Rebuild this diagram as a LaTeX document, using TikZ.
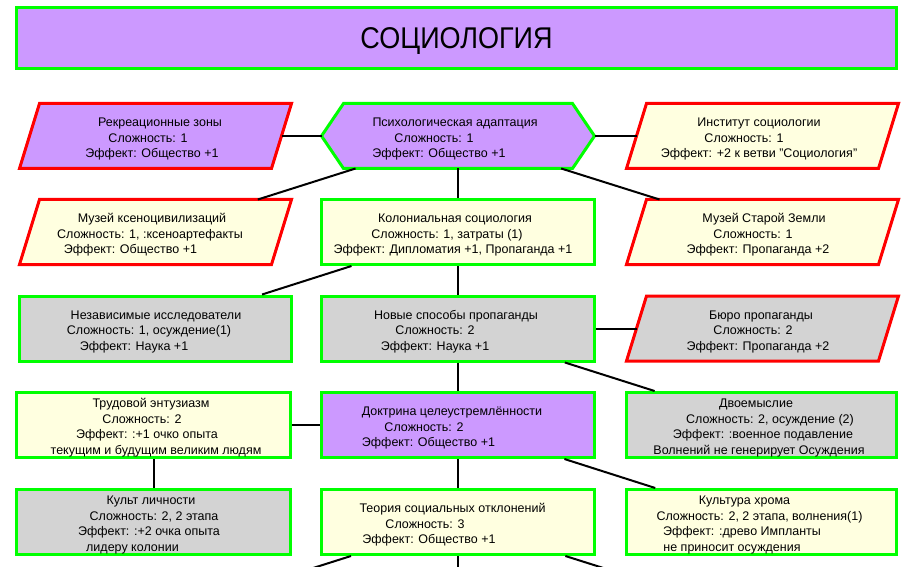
\documentclass[tikz,border=0pt]{standalone}
\usepackage{fontspec}
\usepackage{graphicx}
\setmainfont{Liberation Sans}
\definecolor{cpurple}{HTML}{CC99FF}
\definecolor{cyellow}{HTML}{FFFFE0}
\definecolor{cgray}{HTML}{D3D3D3}
\definecolor{cgreen}{HTML}{00FF00}
\definecolor{cred}{HTML}{FF0000}
\pgfdeclarelayer{background}
\pgfdeclarelayer{canvas}
\pgfsetlayers{canvas,background,main}
\newcommand\Tx[1]{\raisebox{-3pt}[\height][\depth]{\begin{tabular}{@{}c@{}}#1\end{tabular}}}
\tikzset{
  txt/.style={font=\fontsize{12.5}{15.5}\selectfont, text=black},
  box/.style={txt, rectangle, draw=cgreen, line width=3pt, minimum height=65pt, inner sep=0pt, outer sep=1.5pt},
  ghost/.style={txt, rectangle, draw=none, minimum height=65pt, inner sep=0pt, outer sep=0pt},
  redline/.style={draw=cred, line width=3pt, line join=miter},
  greenline/.style={draw=cgreen, line width=3pt, line join=miter},
  link/.style={draw=black, line width=2pt},
  wl/.style={minimum width=272pt},
  wm/.style={minimum width=273pt},
  wr/.style={minimum width=270pt},
  wp/.style={minimum width=252pt},
}
\begin{document}
\begin{tikzpicture}[x=1pt,y=-1pt]
\clip (0,0) rectangle (911,567);
\begin{pgfonlayer}{canvas}
\fill[white] (0,0) rectangle (911,567);
\end{pgfonlayer}

% title
\node[box, fill=cpurple, minimum width=880pt, minimum height=61pt] (title) at (456.5,38)
  {\raisebox{-3pt}[\height][\depth]{\scalebox{0.9}[1]{\fontsize{30}{30}\selectfont СОЦИОЛОГИЯ}}};

% row 1
\node[ghost, wp] (rek) at (155.5,136)
  {\Tx{\hspace*{9pt}Рекреационные зоны\\\hspace*{-15pt}Сложность: 1\\\hspace*{-7pt}Эффект: Общество +1}};
\node[ghost, wm] (psy) at (458,136)
  {\Tx{\hspace*{-6pt}Психологическая адаптация\\\hspace*{-48pt}Сложность: 1\\\hspace*{-38pt}Эффект: Общество +1}};
\node[ghost, wp] (inst) at (762.5,136)
  {\Tx{\hspace*{-7pt}Институт социологии\\\hspace*{-37pt}Сложность: 1\\\hspace*{-7pt}Эффект: +2 к ветви "Социология"}};

% row 2
\node[ghost, wp] (muzk) at (155.5,232)
  {\Tx{\hspace*{-7pt}Музей ксеноцивилизаций\\\hspace*{-11pt}Сложность: 1, :ксеноартефакты\\\hspace*{-50pt}Эффект: Общество +1}};
\node[box, wm, fill=cyellow] (kol) at (458,232)
  {\Tx{\hspace*{-6pt}Колониальная социология\\\hspace*{-22pt}Сложность: 1, затраты (1)\\\hspace*{-10pt}Эффект: Дипломатия +1, Пропаганда +1}};
\node[ghost, wp] (muzz) at (762.5,232)
  {\Tx{\hspace*{3pt}Музей Старой Земли\\\hspace*{-19pt}Сложность: 1\\\hspace*{-9pt}Эффект: Пропаганда +2}};

% row 3
\node[box, wl, fill=cgray] (nez) at (155.5,328.5)
  {\Tx{\hspace*{1pt}Независимые исследователи\\\hspace*{-13pt}Сложность: 1, осуждение(1)\\\hspace*{-43pt}Эффект: Наука +1}};
\node[box, wm, fill=cgray] (nov) at (458,328.5)
  {\Tx{\hspace*{-4pt}Новые способы пропаганды\\\hspace*{-46pt}Сложность: 2\\\hspace*{-46pt}Эффект: Наука +1}};
\node[ghost, wp] (buro) at (762.5,328.5)
  {\Tx{\hspace*{-3pt}Бюро пропаганды\\\hspace*{-19pt}Сложность: 2\\\hspace*{-9pt}Эффект: Пропаганда +2}};

% row 4
\node[box, minimum width=274pt, fill=cyellow] (trud) at (153.5,425)
  {\Tx{\hspace*{-5pt}Трудовой энтузиазм\\\hspace*{-23pt}Сложность: 2\\\hspace*{-13pt}Эффект: :+1 очко опыта\\\hspace*{5pt}текущим и будущим великим людям}};
\node[box, wm, fill=cpurple] (dok) at (458,425)
  {\Tx{\hspace*{-12pt}Доктрина целеустремлённости\\\hspace*{-68pt}Сложность: 2\\\hspace*{-59pt}Эффект: Общество +1}};
\node[box, wr, fill=cgray] (dvo) at (761.5,425)
  {\Tx{\hspace*{-11pt}Двоемыслие\\\hspace*{17pt}Сложность: 2, осуждение (2)\\\hspace*{3pt}Эффект: :военное подавление\\\hspace*{-5pt}Волнений не генерирует Осуждения}};

% row 5
\node[box, minimum width=274pt, fill=cgray] (kult) at (153.5,522)
  {\Tx{\hspace*{-5pt}Культ личности\\\hspace*{1pt}Сложность: 2, 2 этапа\\\hspace*{-9pt}Эффект: :+2 очка опыта\\\hspace*{-42pt}лидеру колонии}};
\node[box, wm, fill=cyellow] (teor) at (458,522)
  {\Tx{\hspace*{-11pt}Теория социальных отклонений\\\hspace*{-66pt}Сложность: 3\\\hspace*{-58pt}Эффект: Общество +1}};
\node[box, wr, fill=cyellow] (khrom) at (761.5,522)
  {\Tx{\hspace*{-34pt}Культура хрома\\\hspace*{-4pt}Сложность: 2, 2 этапа, волнения(1)\\\hspace*{-39pt}Эффект: :древо Импланты\\\hspace*{-59pt}не приносит осуждения}};

% free ends of the next row
\coordinate (nL) at (155.5,618);
\coordinate (nC) at (458,618);
\coordinate (nR) at (761.5,618);

% shaped outlines behind the text
\begin{pgfonlayer}{background}
  \path[redline, fill=cpurple] ([xshift=-10pt]rek.south west) -- ([xshift=-10pt]rek.south east) -- ([xshift=10pt]rek.north east) -- ([xshift=10pt]rek.north west) -- cycle;
  \path[redline, fill=cyellow] ([xshift=-10pt]inst.south west) -- ([xshift=-10pt]inst.south east) -- ([xshift=10pt]inst.north east) -- ([xshift=10pt]inst.north west) -- cycle;
  \path[redline, fill=cyellow] ([xshift=-10pt]muzk.south west) -- ([xshift=-10pt]muzk.south east) -- ([xshift=10pt]muzk.north east) -- ([xshift=10pt]muzk.north west) -- cycle;
  \path[redline, fill=cyellow] ([xshift=-10pt]muzz.south west) -- ([xshift=-10pt]muzz.south east) -- ([xshift=10pt]muzz.north east) -- ([xshift=10pt]muzz.north west) -- cycle;
  \path[redline, fill=cgray] ([xshift=-10pt]buro.south west) -- ([xshift=-10pt]buro.south east) -- ([xshift=10pt]buro.north east) -- ([xshift=10pt]buro.north west) -- cycle;
  \path[greenline, fill=cpurple] (psy.west) -- ([xshift=22pt]psy.north west) -- ([xshift=-22pt]psy.north east) -- (psy.east) -- ([xshift=-22pt]psy.south east) -- ([xshift=22pt]psy.south west) -- cycle;
\end{pgfonlayer}

% connectors
\draw[link] (rek) -- (psy);
\draw[link] (psy) -- (inst);
\draw[link] (psy) -- (muzk);
\draw[link] (psy) -- (kol);
\draw[link] (psy) -- (muzz);
\draw[link] (kol) -- (nez);
\draw[link] (kol) -- (nov);
\draw[link] (nov) -- (buro);
\draw[link] (nov) -- (dok);
\draw[link] (nov) -- (dvo);
\draw[link] (trud) -- (dok);
\draw[link] (trud) -- (kult);
\draw[link] (dok) -- (teor);
\draw[link] (dok) -- (khrom);
\draw[link] (teor) -- (nL);
\draw[link] (teor) -- (nC);
\draw[link] (teor) -- (nR);
\end{tikzpicture}
\end{document}
